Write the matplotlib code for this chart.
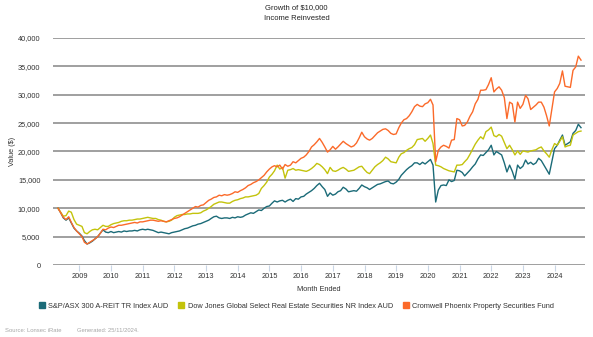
import matplotlib
matplotlib.use("Agg")
import matplotlib.pyplot as plt
from matplotlib.lines import Line2D
from matplotlib.ticker import FuncFormatter
import pandas as pd

plt.rcParams['font.family'] = ['Liberation Sans', 'DejaVu Sans']

title = "Growth of $10,000"
subtitle = "Income Reinvested"
series_names = ["S&P/ASX 300 A-REIT TR Index AUD",
                "Dow Jones Global Select Real Estate Securities NR Index AUD",
                "Cromwell Phoenix Property Securities Fund"]
colors = ["#1b6b78", "#c3c30c", "#fb6a2a"]

months = pd.date_range("2008-04-30", "2024-10-31", freq="ME")

areit = [10000, 9200, 8300, 7900, 8300, 7400, 6500, 6000, 5600, 5100,
         4300, 3700, 3900, 4200, 4600, 5000, 5600, 6200, 5800, 5700,
         5900, 5700, 5800, 5900, 5800, 6000, 5900, 6000, 6000, 6100,
         6000, 6200, 6300, 6200, 6300, 6200, 6100, 5900, 5700, 5800,
         5700, 5600, 5500, 5700, 5800, 5900, 6000, 6200, 6400, 6500,
         6700, 6900, 7000, 7200, 7300, 7500, 7700, 7900, 8200, 8500,
         8600, 8300, 8200, 8300, 8300, 8200, 8400, 8300, 8500, 8400,
         8500, 8800, 9000, 9200, 9100, 9400, 9700, 9600, 10000, 10300,
         10400, 10900, 11300, 11100, 11300, 11400, 11100, 11400, 11600, 11200,
         11700, 11600, 12000, 12100, 12500, 12800, 13100, 13500, 14000, 14400,
         13800, 13300, 12100, 12700, 12300, 12500, 12900, 13100, 13700, 13400,
         12900, 13000, 13100, 13000, 13500, 14100, 13800, 13600, 13300, 13600,
         13900, 14200, 14300, 14500, 14700, 14800, 14400, 14300, 14600, 15100,
         15800, 16300, 16800, 17200, 17500, 18000, 18000, 17700, 18100, 17800,
         18200, 18600, 17600, 11100, 13200, 14000, 14100, 14000, 15000, 14700,
         14900, 16700, 16600, 16300, 15700, 16200, 16700, 17300, 17800, 18700,
         19400, 19300, 19800, 20300, 21100, 19400, 20000, 19700, 19400, 18000,
         16400, 17600, 16500, 15100, 17600, 17000, 17400, 18500, 17800, 18100,
         17700, 18000, 18800, 18400, 17600, 16800, 16000, 18200, 20500, 21100,
         22000, 22900, 21100, 21400, 21700, 23200, 23700, 24800, 24200]

dj_global = [10000, 9300, 8600, 8700, 9500, 9300, 8000, 7200, 7000, 6800,
             5700, 5500, 5900, 6200, 6300, 6200, 6600, 7000, 6800, 6800,
             7100, 7300, 7400, 7500, 7700, 7800, 7800, 7900, 7900, 8000,
             8100, 8100, 8200, 8300, 8400, 8300, 8200, 8200, 8000, 7900,
             7700, 7600, 7700, 7900, 8400, 8700, 8800, 8900, 8900, 9000,
             9000, 9100, 9100, 9100, 9200, 9500, 9700, 10000, 10300, 10700,
             10900, 11100, 11100, 11000, 10900, 10900, 11200, 11400, 11500, 11700,
             11800, 12000, 12000, 12100, 12200, 12300, 12600, 13500, 14000, 14600,
             15500, 16000, 16600, 17600, 16900, 17200, 15300, 16700, 16800, 17000,
             16700, 16800, 16700, 16600, 16500, 16700, 17000, 17400, 17900, 17700,
             17300, 16800, 16100, 17200, 16600, 16500, 16700, 17000, 17200, 16900,
             16500, 16600, 16700, 17000, 17300, 17400, 16800, 16300, 16100, 16700,
             17300, 17700, 18000, 18400, 19000, 18700, 18200, 18100, 18000, 19000,
             19600, 19800, 20200, 20500, 20700, 21200, 22100, 22200, 22300, 21800,
             22300, 22900, 21400, 17600, 17500, 17300, 17000, 16800, 16600, 16500,
             16400, 17600, 17600, 17700, 18200, 18700, 19500, 20400, 21300, 22000,
             22600, 22200, 23500, 23800, 24300, 22800, 22600, 23000, 22700, 21600,
             20500, 21100, 20300, 19400, 20100, 19500, 20100, 20000, 19900, 20100,
             20200, 20300, 20600, 20800, 20100, 19600, 19000, 20300, 21400, 21100,
             21800, 22600, 20800, 21000, 21100, 22900, 23200, 23500, 23600]

cromwell = [10000, 9200, 8400, 8000, 8500, 7500, 6600, 6000, 5500, 5000,
            4000, 3700, 4000, 4300, 4600, 5000, 5600, 6300, 6200, 6500,
            6700, 6600, 6800, 7000, 7000, 7100, 7200, 7300, 7400, 7500,
            7400, 7600, 7600, 7700, 7800, 7900, 7900, 7800, 7700, 7800,
            7700, 7600, 7800, 8000, 8200, 8300, 8500, 8800, 9100, 9400,
            9700, 10000, 10300, 10200, 10500, 10600, 11000, 11400, 11600, 11900,
            12000, 12300, 12200, 12400, 12300, 12400, 12600, 12900, 12800, 13100,
            13300, 13600, 14000, 14200, 14500, 14700, 15000, 15400, 15800, 16400,
            16900, 17300, 17500, 17300, 17600, 16900, 17700, 17400, 17600, 18200,
            18000, 18400, 18800, 19000, 19400, 20000, 20800, 21200, 21700, 22300,
            21600, 20800, 19900, 20300, 20900, 20400, 20800, 21300, 21800, 21400,
            21100, 20800, 21000, 21500, 22400, 23400, 22600, 22200, 22000, 22300,
            22800, 23300, 23600, 23900, 24000, 23700, 23200, 23000, 23100, 24200,
            25000, 25600, 25800, 26300, 27000, 27900, 28300, 28000, 27900, 28400,
            28600, 29200, 28200, 18200, 20200, 20800, 21100, 20900, 20600, 22000,
            22100, 25800, 25600, 24500, 24600, 25200, 26200, 27000, 28400, 29200,
            30800, 30800, 30900, 31800, 33000, 30500, 31000, 31400, 30800, 29500,
            25800, 28700, 28400, 25200, 28700, 27600, 28300, 29900, 29300, 27400,
            27800, 28200, 28700, 28700, 27800, 26300, 24500, 27500, 30500, 31100,
            32000, 34200, 31500, 31400, 31300, 34300, 34900, 36800, 36100]

year_ticks = list(range(2009, 2025))
y_ticks = [0, 5000, 10000, 15000, 20000, 25000, 30000, 35000, 40000]

W, H = 593, 337
fig = plt.figure(figsize=(W / 100, H / 100), dpi=100)
ax = fig.add_axes([53 / W, 1 - 265 / H, (585 - 53) / W, (265 - 38) / H])

for vals, c in zip([areit, dj_global, cromwell], colors):
    ax.plot(months, vals, color=c, lw=1.0, solid_joinstyle='round')

ax.set_ylim(0, 40000)
ax.set_yticks(y_ticks)
ax.yaxis.set_major_formatter(FuncFormatter(lambda v, p: f"{int(v):,}"))
ax.set_xlim(pd.Timestamp("2008-03-03"), pd.Timestamp("2024-12-16"))
ax.set_xticks([pd.Timestamp(f"{y}-01-01") for y in year_ticks])
ax.set_xticklabels([str(y) for y in year_ticks])

ax.grid(axis='y', color='#858585', lw=1.1)
ax.set_axisbelow(True)
for s in ax.spines.values():
    s.set_visible(False)
ax.tick_params(axis='y', length=0, pad=9, labelsize=5.3, labelcolor='#333333')
ax.tick_params(axis='x', length=4, width=0.8, color='#c9d6e6', pad=2,
               labelsize=5.3, labelcolor='#333333')

fig.text(12 / W, 1 - 151 / H, "Value ($)", rotation=90, ha='center', va='center',
         fontsize=5.3, color='#333333')
ax.set_xlabel("Month Ended", fontsize=5.3, color='#333333', labelpad=4)

fig.text(0.5, 1 - 8 / H, title, ha='center', va='center', fontsize=5.5, color='#222222')
fig.text(0.5, 1 - 19 / H, subtitle, ha='center', va='center', fontsize=5.5, color='#222222')

handles = [Line2D([], [], marker='s', ls='none', color=c, markersize=4.2) for c in colors]
fig.legend(handles, series_names, loc='center', bbox_to_anchor=(0.5, 1 - 306 / H),
           ncol=3, frameon=False, fontsize=5.3, handlelength=0.8, handletextpad=0.5,
           columnspacing=1.3, labelcolor='#333333')

fig.text(5 / W, 1 - 330 / H, "Source: Lonsec iRate", ha='left', va='center',
         fontsize=4.2, color='#a6a6a6')
fig.text(77 / W, 1 - 330 / H, "Generated: 25/11/2024.", ha='left', va='center',
         fontsize=4.2, color='#a6a6a6')

fig.savefig("out.png", dpi=100)
